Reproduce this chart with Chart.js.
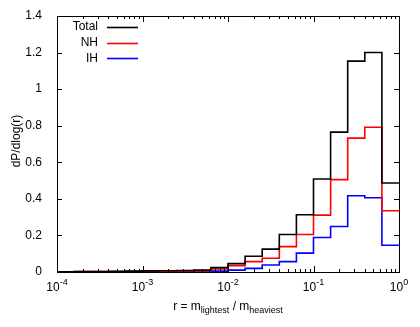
<!DOCTYPE html>
<html>
<head>
<meta charset="utf-8">
<script src="https://cdn.jsdelivr.net/npm/chart.js@4/dist/chart.umd.min.js"></script>
<style>
  html, body { margin: 0; padding: 0; background: #fff; }
  #wrap { width: 420px; height: 327px; }
</style>
</head>
<body>
<div id="wrap"><canvas id="chart"></canvas></div>
<script>
// left edge of each bin, as log10(r); 5 bins per decade, last bin ends at r = 1
const binExponents = [-4.0, -3.8, -3.6, -3.4, -3.2, -3.0, -2.8, -2.6, -2.4, -2.2,
                      -2.0, -1.8, -1.6, -1.4, -1.2, -1.0, -0.8, -0.6, -0.4, -0.2];
const lastEdge = 1;

const totalValues = [0.001, 0.003, 0.003, 0.004, 0.005, 0.006, 0.007, 0.008, 0.010, 0.024,
                     0.046, 0.086, 0.125, 0.205, 0.313, 0.509, 0.765, 1.153, 1.200, 0.487];
const nhValues    = [0.001, 0.002, 0.002, 0.003, 0.004, 0.004, 0.005, 0.006, 0.006, 0.016,
                     0.035, 0.057, 0.075, 0.139, 0.205, 0.311, 0.505, 0.732, 0.792, 0.335];
const ihValues    = [0.0005, 0.001, 0.001, 0.001, 0.001, 0.002, 0.002, 0.002, 0.003, 0.005,
                     0.010, 0.020, 0.038, 0.057, 0.103, 0.189, 0.249, 0.417, 0.406, 0.146];

const seriesNames  = ["Total", "NH", "IH"];
const seriesColors = ["#000000", "#ff0000", "#0000ff"];

const xTickExponents = [-4, -3, -2, -1, 0];
const yTickValues = [0, 0.2, 0.4, 0.6, 0.8, 1, 1.2, 1.4];

const FONT = '"Liberation Sans", Arial, Helvetica, sans-serif';

function stepPoints(values) {
    const pts = binExponents.map((e, i) => ({ x: Math.pow(10, e), y: values[i] }));
    pts.push({ x: lastEdge, y: values[values.length - 1] });
    return pts;
}

const allSeries = [totalValues, nhValues, ihValues];

/// ------------- frame, ticks, labels, legend --------------- ///

const gnuplotLook = {
    id: "gnuplotLook",
    afterDatasetsDraw(chart) {
        const ctx = chart.ctx;
        const a = chart.chartArea;
        const xs = chart.scales.x;
        const ys = chart.scales.y;
        ctx.save();
        ctx.strokeStyle = "#000";
        ctx.lineWidth = 1;

        // inward ticks
        ctx.beginPath();
        for (let k = xTickExponents[0]; k < xTickExponents[xTickExponents.length - 1]; k++) {
            for (let m = 1; m <= 9; m++) {
                const px = Math.round(xs.getPixelForValue(m * Math.pow(10, k))) + 0.5;
                const len = m === 1 ? 6 : 3;
                ctx.moveTo(px, a.bottom); ctx.lineTo(px, a.bottom - len);
                ctx.moveTo(px, a.top); ctx.lineTo(px, a.top + len);
            }
        }
        yTickValues.forEach(v => {
            const py = Math.round(ys.getPixelForValue(v)) + 0.5;
            ctx.moveTo(a.left, py); ctx.lineTo(a.left + 5, py);
            ctx.moveTo(a.right, py); ctx.lineTo(a.right - 5, py);
        });
        ctx.stroke();

        // frame
        ctx.strokeRect(Math.round(a.left) + 0.5, Math.round(a.top) + 0.5,
                       Math.round(a.right - a.left), Math.round(a.bottom - a.top));

        // x tick labels 10^k
        ctx.fillStyle = "#000";
        xTickExponents.forEach(k => {
            const px = xs.getPixelForValue(Math.pow(10, k));
            ctx.font = "12px " + FONT;
            const base = "10";
            const sup = String(k);
            const wBase = ctx.measureText(base).width;
            ctx.font = "9px " + FONT;
            const wSup = ctx.measureText(sup).width;
            const x0 = px - (wBase + wSup) / 2;
            ctx.textAlign = "left";
            ctx.textBaseline = "alphabetic";
            ctx.font = "12px " + FONT;
            ctx.fillText(base, x0, 291);
            ctx.font = "9px " + FONT;
            ctx.fillText(sup, x0 + wBase, 285);
        });

        // x axis title with subscripts
        const parts = [
            ["r = m", 12, 0], ["lightest", 9, 3], [" / m", 12, 0], ["heaviest", 9, 3]
        ];
        let total = 0;
        parts.forEach(p => { ctx.font = p[1] + "px " + FONT; total += ctx.measureText(p[0]).width; });
        let cx = (a.left + a.right) / 2 - total / 2;
        parts.forEach(p => {
            ctx.font = p[1] + "px " + FONT;
            ctx.fillText(p[0], cx, 310 + p[2]);
            cx += ctx.measureText(p[0]).width;
        });

        // y axis title
        ctx.save();
        ctx.translate(17, (a.top + a.bottom) / 2 - 3);
        ctx.rotate(-Math.PI / 2);
        ctx.font = "12px " + FONT;
        ctx.textAlign = "center";
        ctx.textBaseline = "middle";
        ctx.fillText("dP/dlog(r)", 0, 0);
        ctx.restore();

        // legend, top left inside the frame
        ctx.font = "12px " + FONT;
        ctx.textAlign = "right";
        ctx.textBaseline = "middle";
        seriesNames.forEach((name, i) => {
            const y = 27 + i * 15.7;
            ctx.fillStyle = "#000";
            ctx.fillText(name, 98, y);
            ctx.strokeStyle = seriesColors[i];
            ctx.lineWidth = 1.6;
            ctx.beginPath();
            ctx.moveTo(107, Math.round(y) + 0.5);
            ctx.lineTo(138, Math.round(y) + 0.5);
            ctx.stroke();
        });

        ctx.restore();
    }
};

new Chart(document.getElementById("chart"), {
    type: "line",
    data: {
        datasets: seriesNames.map((name, i) => ({
            label: name,
            data: stepPoints(allSeries[i]),
            borderColor: seriesColors[i],
            borderWidth: 1.6,
            stepped: "before",
            pointRadius: 0,
            fill: false
        }))
    },
    options: {
        responsive: true,
        maintainAspectRatio: false,
        animation: false,
        layout: {
            padding: { top: 16, right: 21, left: 0, bottom: 0 }
        },
        plugins: {
            legend: { display: false },
            tooltip: { enabled: false }
        },
        scales: {
            x: {
                type: "logarithmic",
                min: 1e-4,
                max: 1,
                grid: { display: false },
                border: { display: false },
                ticks: { display: false },
                afterFit: s => { s.height = 55; }
            },
            y: {
                min: 0,
                max: 1.4,
                grid: { display: false },
                border: { display: false },
                afterBuildTicks: s => { s.ticks = yTickValues.map(v => ({ value: v })); },
                afterFit: s => { s.width = 57; },
                ticks: {
                    padding: 7,
                    color: "#000",
                    font: { family: FONT, size: 12 },
                    callback: v => String(Number(v.toFixed(1)))
                }
            }
        }
    },
    plugins: [gnuplotLook]
});
</script>
</body>
</html>
